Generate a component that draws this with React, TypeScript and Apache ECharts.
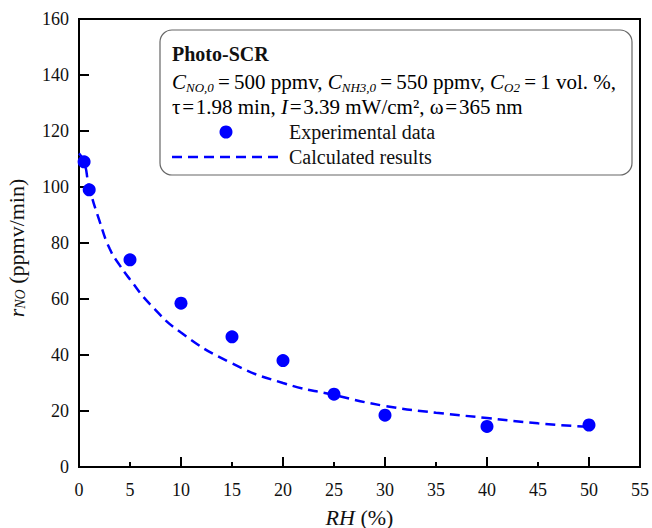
import React, { useEffect, useRef } from "react";
import * as echarts from "echarts";

const expRH = [0.5, 1, 5, 10, 15, 20, 25, 30, 40, 50];
const expRate = [109, 99, 74, 58.5, 46.5, 38, 26, 18.5, 14.5, 15];

const calcRH = [0, 0.5, 1, 2, 3, 4, 5, 7, 10, 15, 20, 25, 30, 35, 40, 45, 50];
const calcRate = [112, 109, 100, 88, 78, 72, 67, 58, 48, 37, 30, 25.7, 21.8, 19.4, 17.5, 15.6, 14.3];

const xTicks = [0, 5, 10, 15, 20, 25, 30, 35, 40, 45, 50, 55];
const yTicks = [0, 20, 40, 60, 80, 100, 120, 140, 160];

const FONT = "Liberation Serif";
const BLUE = "#0000ff";

export default function App() {
  const ref = useRef<HTMLDivElement>(null);
  useEffect(() => {
    if (!ref.current) return;
    const chart = echarts.init(ref.current, null, { renderer: "svg" });
    const baseText = { fontFamily: FONT, fontSize: 18, color: "#111" };
    const rich = {
      i: { fontFamily: FONT, fontSize: 21, fontStyle: "italic", color: "#111", lineHeight: 24 },
      n: { fontFamily: FONT, fontSize: 21, color: "#111", lineHeight: 24 },
      s: { fontFamily: FONT, fontSize: 13, fontStyle: "italic", color: "#111", lineHeight: 13, verticalAlign: "bottom" },
    };
    const axisRich = {
      i: { fontFamily: FONT, fontSize: 22, fontStyle: "italic", color: "#111", lineHeight: 22 },
      n: { fontFamily: FONT, fontSize: 22, color: "#111", lineHeight: 22 },
      s: { fontFamily: FONT, fontSize: 14, fontStyle: "italic", color: "#111", lineHeight: 12, verticalAlign: "bottom" },
    };
    const hs = "\u200A";
    const ts = "\u2009";
    chart.setOption({
      animation: false,
      backgroundColor: "#fff",
      grid: {
        left: 79,
        right: 12,
        top: 19,
        bottom: 61,
        outerBoundsMode: "none",
        containLabel: false,
        show: true,
        borderColor: "#000",
        borderWidth: 2,
        backgroundColor: "transparent",
      },
      xAxis: [
        {
          type: "value",
          min: xTicks[0],
          max: xTicks[xTicks.length - 1],
          interval: 5,
          position: "bottom",
          axisLine: { show: true, onZero: false, lineStyle: { color: "#000", width: 2 } },
          axisTick: { show: true, inside: true, length: 5, lineStyle: { color: "#000", width: 2 } },
          splitLine: { show: false },
          axisLabel: { ...baseText, margin: 14 },
          name: "{i|RH}{n| (%)}",
          nameLocation: "middle",
          nameGap: 39,
          nameTextStyle: { ...baseText, rich: axisRich },
        },
        {
          type: "value",
          min: xTicks[0],
          max: xTicks[xTicks.length - 1],
          interval: 10,
          position: "bottom",
          axisLine: { show: false, onZero: false },
          axisTick: { show: true, inside: true, length: 10, lineStyle: { color: "#000", width: 2 } },
          splitLine: { show: false },
          axisLabel: { show: false },
        },
      ],
      yAxis: {
        type: "value",
        min: yTicks[0],
        max: yTicks[yTicks.length - 1],
        interval: 20,
        axisLine: { show: true, onZero: false, lineStyle: { color: "#000", width: 2 } },
        axisTick: { show: true, inside: true, length: 10, lineStyle: { color: "#000", width: 2 } },
        splitLine: { show: false },
        axisLabel: { ...baseText, margin: 10 },
        name: "{i|r}{s|NO}{n| (ppmv/min)}",
        nameLocation: "middle",
        nameRotate: 90,
        nameGap: 52,
        nameTextStyle: { ...baseText, rich: axisRich, padding: [0, 10, 0, 0] },
      },
      series: [
        {
          type: "line",
          data: calcRH.map((x, i) => [x, calcRate[i]]),
          smooth: true,
          showSymbol: false,
          symbol: "none",
          lineStyle: { color: BLUE, width: 2.5, type: [10, 6] },
          z: 2,
        },
        {
          type: "scatter",
          data: expRH.map((x, i) => [x, expRate[i]]),
          symbol: "circle",
          symbolSize: 13,
          itemStyle: { color: BLUE, opacity: 1 },
          z: 3,
        },
      ],
      graphic: [
        {
          type: "rect",
          shape: { x: 160, y: 30, width: 472, height: 145, r: 12 },
          style: { fill: "#fff", stroke: "#666", lineWidth: 1.2 },
          z: 10,
        },
        {
          type: "text",
          x: 172,
          y: 54,
          style: { text: "Photo-SCR", fontFamily: FONT, fontSize: 20, fontWeight: "bold", fill: "#111", verticalAlign: "middle" },
          z: 11,
        },
        {
          type: "text",
          x: 172,
          y: 82,
          style: {
            text: `{i|C}{s|NO,0}{n|${ts}=${ts}500 ppmv, }{i|C}{s|NH3,0}{n|${ts}=${ts}550 ppmv, }{i|C}{s|O2}{n|${ts}=${ts}1 vol. %,}`,
            rich,
            verticalAlign: "middle",
          },
          z: 11,
        },
        {
          type: "text",
          x: 172,
          y: 107,
          style: {
            text: `{n|τ${hs}=${hs}1.98 min, }{i|I}{n|${hs}=${hs}3.39 mW/cm², ω${hs}=${hs}365 nm}`,
            rich,
            verticalAlign: "middle",
          },
          z: 11,
        },
        {
          type: "circle",
          shape: { cx: 226, cy: 132, r: 6.5 },
          style: { fill: BLUE },
          z: 11,
        },
        {
          type: "text",
          x: 289,
          y: 132,
          style: { text: "Experimental data", fontFamily: FONT, fontSize: 20, fill: "#111", verticalAlign: "middle" },
          z: 11,
        },
        {
          type: "line",
          shape: { x1: 172, y1: 157, x2: 278, y2: 157 },
          style: { stroke: BLUE, lineWidth: 2.5, lineDash: [10, 6] },
          z: 11,
        },
        {
          type: "text",
          x: 289,
          y: 157,
          style: { text: "Calculated results", fontFamily: FONT, fontSize: 20, fill: "#111", verticalAlign: "middle" },
          z: 11,
        },
      ],
    });
    return () => chart.dispose();
  }, []);
  return <div ref={ref} style={{ position: "absolute", left: 0, top: 0, width: 652, height: 528 }} />;
}
